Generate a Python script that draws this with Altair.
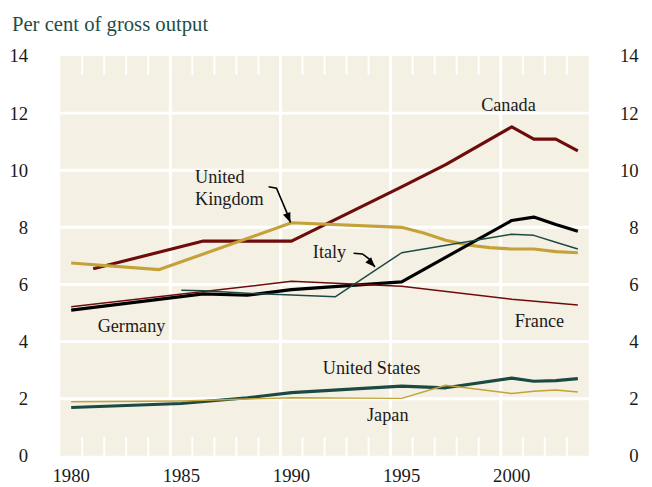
import altair as alt
import pandas as pd

# ---------------- data ----------------
title_text = "Per cent of gross output"

countries = ["Canada", "United Kingdom", "Germany", "France", "Italy", "United States", "Japan"]
line_colors = ["#6e0b0b", "#c4a239", "#000000", "#6e0b0b", "#1b4a43", "#1b4a43", "#c4a239"]
line_widths = [3.2, 3.2, 3.2, 1.5, 1.5, 3.2, 1.5]

canada_years = [1981, 1986, 1990, 1995, 1997, 2000, 2001, 2002, 2003]
canada_vals = [6.55, 7.52, 7.52, 9.42, 10.2, 11.52, 11.09, 11.09, 10.68]

uk_years = [1980, 1984, 1990, 1995, 1996, 1997, 1998, 1999, 2000, 2001, 2002, 2003]
uk_vals = [6.75, 6.52, 8.16, 8.0, 7.8, 7.55, 7.38, 7.29, 7.24, 7.24, 7.15, 7.11]

germany_years = [1980, 1986, 1988, 1990, 1995, 2000, 2001, 2002, 2003]
germany_vals = [5.1, 5.67, 5.62, 5.82, 6.09, 8.24, 8.36, 8.1, 7.86]

france_years = [1980, 1990, 1995, 2000, 2003]
france_vals = [5.22, 6.11, 5.94, 5.48, 5.28]

italy_years = [1985, 1986, 1988, 1992, 1995, 2000, 2001, 2002, 2003]
italy_vals = [5.8, 5.78, 5.69, 5.57, 7.11, 7.76, 7.72, 7.48, 7.24]

us_years = [1980, 1985, 1988, 1990, 1995, 1997, 2000, 2001, 2002, 2003]
us_vals = [1.69, 1.83, 2.03, 2.21, 2.44, 2.38, 2.72, 2.61, 2.63, 2.70]

japan_years = [1980, 1985, 1990, 1995, 1997, 2000, 2001, 2002, 2003]
japan_vals = [1.89, 1.92, 2.03, 2.01, 2.47, 2.18, 2.26, 2.30, 2.23]

x_label_years = [1980, 1985, 1990, 1995, 2000]
y_ticks = [0, 2, 4, 6, 8, 10, 12, 14]
y_grid = [2, 4, 6, 8, 10, 12]
x_grid = [1985, 1990, 1995, 2000]
minor_years = list(range(1981, 2004))

# series labels: text, left x (axis units), baseline y
label_text = ["Canada", "United", "Kingdom", "Italy", "Germany", "France", "United States", "Japan"]
label_x = [1999.11, 1986.12, 1986.12, 1991.47, 1981.70, 2000.63, 1991.92, 1993.93]
label_y = [12.06, 9.54, 8.79, 6.92, 4.33, 4.51, 2.86, 1.20]

# pointer arrows (axis units)
arrow_id = ["uk", "uk", "uk", "uk", "it", "it", "it", "it"]
arrow_x = [1989.46, 1989.82, 1990.38, 1990.45, 1993.32, 1993.72, 1994.02, 1994.29]
arrow_y = [9.42, 9.37, 8.35, 8.17, 7.09, 7.07, 6.90, 6.61]
head_x = [1990.45, 1994.29]
head_y = [8.17, 6.61]
head_angle = [158, 137]

# ---------------- tables ----------------
series = {
    "Canada": (canada_years, canada_vals),
    "United Kingdom": (uk_years, uk_vals),
    "Germany": (germany_years, germany_vals),
    "France": (france_years, france_vals),
    "Italy": (italy_years, italy_vals),
    "United States": (us_years, us_vals),
    "Japan": (japan_years, japan_vals),
}
width_of = dict(zip(countries, line_widths))
rows = []
for c, (ys, vs) in series.items():
    for yr, v in zip(ys, vs):
        rows.append({"country": c, "x": yr + 0.5, "value": v, "w": width_of[c]})
lines_df = pd.DataFrame(rows)

labels_df = pd.DataFrame({"label": label_text, "x": label_x, "y": label_y})
arrows_df = pd.DataFrame({"id": arrow_id, "x": arrow_x, "y": arrow_y, "seq": list(range(len(arrow_x)))})
heads_df = pd.DataFrame({"x": head_x, "y": head_y, "ang": head_angle})
xgrid_df = pd.DataFrame({"year": x_grid})
ygrid_df = pd.DataFrame({"v": y_grid})
minor_df = pd.DataFrame({"year": minor_years})
xlab_df = pd.DataFrame({"year": x_label_years})
title_df = pd.DataFrame({"t": [title_text]})

W, H = 537, 406
FONT = "Liberation Serif"
TXT = "#1a1a1a"
AXFS = 19
LBFS = 18.5
xscale = alt.Scale(domain=[1980, 2004], nice=False, zero=False)
yscale = alt.Scale(domain=[0, 14], nice=False, zero=False)

vgrid = alt.Chart(xgrid_df).mark_rule(color="white", strokeWidth=3).encode(
    x=alt.X("year:Q", scale=xscale, axis=None)
)
hgrid = alt.Chart(ygrid_df).mark_rule(color="white", strokeWidth=3).encode(
    y=alt.Y("v:Q", scale=yscale, axis=None)
)
top_ticks = alt.Chart(minor_df).mark_rule(color="white", strokeWidth=2).encode(
    x=alt.X("year:Q", scale=xscale, axis=None), y=alt.value(0), y2=alt.value(19)
)
bottom_ticks = alt.Chart(minor_df).mark_rule(color="white", strokeWidth=2).encode(
    x=alt.X("year:Q", scale=xscale, axis=None), y=alt.value(H - 19), y2=alt.value(H)
)

# year labels sit in the middle of each year
xlabels = alt.Chart(xlab_df).transform_calculate(
    xm="datum.year + 0.5", lab="'' + datum.year"
).mark_text(baseline="alphabetic", font=FONT, fontSize=AXFS, color=TXT).encode(
    x=alt.X("xm:Q", scale=xscale, axis=None), y=alt.value(H + 27), text="lab:N"
)

lines = alt.Chart(lines_df).mark_line(strokeJoin="round").encode(
    x=alt.X("x:Q", scale=xscale, axis=None),
    y=alt.Y("value:Q", scale=yscale, title=None,
            axis=alt.Axis(orient="left", values=y_ticks, grid=False, ticks=False, domain=False,
                          labelAlign="right", labelBaseline="middle", labelPadding=33,
                          labelFontSize=AXFS, labelFont=FONT, labelColor=TXT)),
    color=alt.Color("country:N", scale=alt.Scale(domain=countries, range=line_colors), legend=None),
    strokeWidth=alt.StrokeWidth("w:Q", scale=None),
    order=alt.Order("x:Q"),
)

texts = alt.Chart(labels_df).mark_text(align="left", baseline="alphabetic", font=FONT,
                                       fontSize=LBFS, color=TXT).encode(
    x=alt.X("x:Q", scale=xscale, axis=None),
    y=alt.Y("y:Q", scale=yscale, title=None,
            axis=alt.Axis(orient="right", values=y_ticks, grid=False, ticks=False, domain=False,
                          labelAlign="right", labelBaseline="middle", labelPadding=50,
                          labelFontSize=AXFS, labelFont=FONT, labelColor=TXT)),
    text="label:N",
)

arrows = alt.Chart(arrows_df).mark_line(color="black", strokeWidth=1.6).encode(
    x=alt.X("x:Q", scale=xscale, axis=None),
    y=alt.Y("y:Q", scale=yscale, axis=None),
    detail="id:N",
    order=alt.Order("seq:Q"),
)
heads = alt.Chart(heads_df).mark_point(shape="M0,0L-0.8,2L0.8,2Z", filled=True, color="black",
                                       size=100, opacity=1, strokeWidth=0).encode(
    x=alt.X("x:Q", scale=xscale, axis=None),
    y=alt.Y("y:Q", scale=yscale, axis=None),
    angle=alt.Angle("ang:Q", scale=None),
)

title = alt.Chart(title_df).mark_text(align="left", baseline="alphabetic", font=FONT,
                                      fontSize=21, color="#1f4d46").encode(
    text="t:N", x=alt.value(-49), y=alt.value(-25.3)
)

chart = alt.layer(
    vgrid, hgrid, top_ticks, bottom_ticks, lines, texts, arrows, heads, xlabels, title
).resolve_axis(y="independent").properties(
    width=W, height=H,
    autosize=alt.AutoSizeParams(type="none"),
    padding={"left": 53, "top": 45, "right": 56, "bottom": 32},
).configure_view(stroke=None, fill="#f4f1e4")

chart.save("out.html", embed_options={"renderer": "svg", "actions": False})
